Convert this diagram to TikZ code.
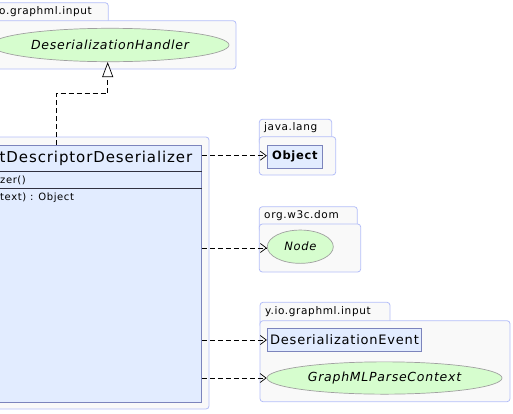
\documentclass[tikz,border=0pt]{standalone}
\usepackage{fontspec}
\setmainfont{DejaVu Sans}[LetterSpace=6]
\usetikzlibrary{shapes.geometric,arrows.meta}
\definecolor{pkgfill}{HTML}{F9F9F9}
\definecolor{pkgline}{HTML}{B4BEF8}
\definecolor{clsfill}{HTML}{E2ECFF}
\definecolor{clsline}{HTML}{7C84BC}
\definecolor{sepline}{HTML}{303040}
\definecolor{ellfill}{HTML}{D6FDCE}
\definecolor{ellline}{HTML}{A0A0A0}
\tikzset{
  pkg/.style={draw=pkgline, fill=pkgfill, rounded corners=3pt, line width=0.8pt},
  pkglabel/.style={anchor=west, inner sep=0pt, font=\fontsize{10.5}{12}\selectfont},
  clsbox/.style={draw=clsline, fill=clsfill, line width=0.9pt, inner sep=0pt},
  ifc/.style={ellipse, draw=ellline, fill=ellfill, line width=0.7pt, inner sep=0pt, font=\fontsize{12.5}{14}\selectfont\itshape},
  dep/.style={dash pattern=on 5pt off 3pt, line width=0.7pt, -{Straight Barb[length=6pt,width=9pt,line width=0.7pt]}},
  inh/.style={dash pattern=on 5pt off 3pt, line width=0.7pt, -{Triangle[open,length=15pt,width=11pt,line width=0.7pt,fill=white]}},
  small/.style={anchor=west, inner sep=0pt, font=\fontsize{10}{11}\selectfont},
  sep/.style={draw=sepline, line width=0.8pt}
}
\begin{document}
\begin{tikzpicture}[x=1pt,y=-1pt]
\useasboundingbox (0,0) rectangle (513,413);
% top package
\draw[pkg] (-5,2.7) rectangle (108.3,30);
\draw[pkg] (-5,20.7) rectangle (236,69);
\node[pkglabel] (p1l) at (-1,12) {o.graphml.input};
\node[ifc, minimum width=238pt, minimum height=33.4pt] (handler) at (110,45) {DeserializationHandler};
% lower-left package
\draw[pkg] (-5,137) rectangle (209,409);
\node[clsbox, minimum width=206.5pt, minimum height=257pt] (cls) at (98.25,273.5) {};
\draw[sep] (-5,171.7) -- (cls.east |- 0,171.7);
\draw[sep] (-5,188) -- (cls.east |- 0,188);
\node[anchor=west, inner sep=0pt, font=\fontsize{15}{17}\selectfont] (title) at (-0.5,158.5) {tDescriptorDeserializer};
\node[small] (m1) at (0,180) {zer()};
\node[small] (m2) at (0,197.5) {text) : Object};
% java.lang
\draw[pkg] (259.3,119.3) rectangle (331.7,145);
\draw[pkg] (259.3,136.7) rectangle (335.7,175);
\node[pkglabel] (p2l) at (264,128) {java.lang};
\node[clsbox, minimum width=55pt, minimum height=23.3pt, font=\fontsize{11.5}{13}\selectfont\bfseries] (obj) at (294.8,156.7) {Object};
% org.w3c.dom
\draw[pkg] (259.3,206.7) rectangle (357.3,232);
\draw[pkg] (259.3,224) rectangle (360.7,272);
\node[pkglabel] (p3l) at (264,215.5) {org.w3c.dom};
\node[ifc, minimum width=66pt, minimum height=33.3pt, font=\fontsize{11.5}{13}\selectfont\itshape] (nd) at (300.3,246.7) {Node};
% y.io.graphml.input
\draw[pkg] (260,302.3) rectangle (390,328);
\draw[pkg] (260,320.7) rectangle (510,401.7);
\node[pkglabel] (p4l) at (265,311.5) {y.io.graphml.input};
\node[clsbox, minimum width=154.4pt, minimum height=23.4pt, font=\fontsize{13}{15}\selectfont] (ev) at (344.5,340) {DeserializationEvent};
\node[ifc, minimum width=235pt, minimum height=32.3pt] (ctx) at (384.5,378) {GraphMLParseContext};
% connectors
\coordinate (s) at (56,145);
\draw[inh] (s) |- (107.7,93.7) coordinate (b) -- (b |- handler.south);
\draw[dep] (cls.east |- 0,155.7) -- (obj.west |- 0,155.7);
\draw[dep] (cls.east |- 0,248) -- (nd.west |- 0,248);
\draw[dep] (cls.east |- ev.west) -- (ev.west);
\draw[dep] (cls.east |- ctx.west) -- (ctx.west);
\end{tikzpicture}
\end{document}
